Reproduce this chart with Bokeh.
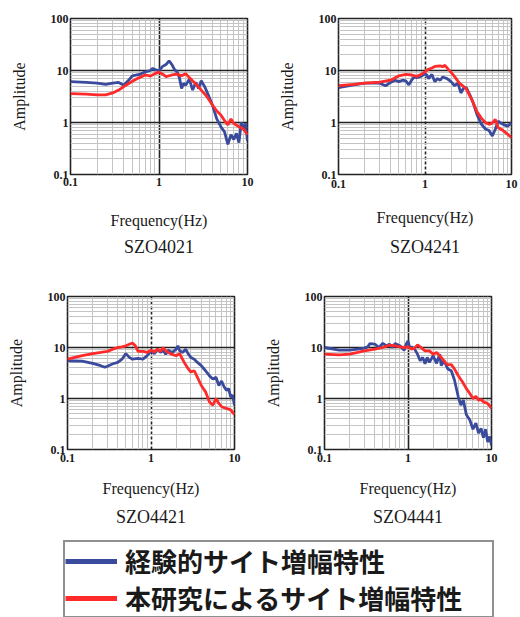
from bokeh.plotting import figure
from bokeh.models import (FixedTicker, CustomJSTickFormatter, Title, Legend,
                          LegendItem, Range1d)
from bokeh.layouts import column, row
from bokeh.embed import file_html
from bokeh.resources import INLINE

# ---------------- data ----------------
stations = ["SZO4021", "SZO4241", "SZO4421", "SZO4441"]
legend_labels = ["経験的サイト増幅特性", "本研究によるサイト増幅特性"]
x_tick_labels = [0.1, 1, 10]
y_tick_labels = [0.1, 1, 10, 100]

# SZO4021
freq_b1 = [0.1, 0.15, 0.2, 0.25, 0.3, 0.35, 0.4, 0.45, 0.5, 0.6, 0.7, 0.8, 0.85, 0.9, 1.0, 1.1, 1.2, 1.3,
           1.4, 1.5, 1.6, 1.7, 1.8, 1.9, 2.0, 2.2, 2.4, 2.6, 2.8, 3.0, 3.3, 3.6, 4.0, 4.5, 5.0, 5.5,
           6.0, 6.5, 7.0, 7.5, 8.0, 8.5, 9.0, 9.5, 10]
amp_b1 = [6.1, 5.9, 5.7, 5.4, 5.7, 5.9, 5.2, 6.4, 7.9, 8.4, 9.4, 10, 11, 10.4, 10, 12, 13, 15.3,
          13, 10.4, 9.4, 7.3, 4.5, 5.7, 5.2, 6.8, 4.2, 5.9, 4.5, 6.4, 4.8, 3.4, 2.2, 1.17, 0.83, 0.66,
          0.38, 0.58, 0.47, 0.62, 0.41, 1.0, 0.77, 0.96, 0.44]
freq_r1 = [0.1, 0.15, 0.2, 0.25, 0.3, 0.35, 0.4, 0.5, 0.6, 0.7, 0.8, 0.9, 1.0, 1.1, 1.2, 1.4, 1.6, 1.8,
           2.0, 2.2, 2.5, 2.8, 3.0, 3.5, 4.0, 4.5, 5.0, 5.5, 6.0, 6.5, 7.0, 8.0, 9.0, 10]
amp_r1 = [3.6, 3.5, 3.4, 3.4, 3.7, 4.2, 4.9, 6.2, 7.3, 8.2, 7.8, 8.7, 9.3, 8.5, 7.6, 8.2, 8.5, 7.9,
          8.7, 7.3, 5.9, 4.8, 4.2, 3.1, 2.2, 1.66, 1.4, 1.09, 0.9, 1.17, 0.96, 0.83, 0.75, 0.58]

# SZO4241
freq_b2 = [0.1, 0.15, 0.2, 0.3, 0.35, 0.4, 0.45, 0.5, 0.55, 0.6, 0.65, 0.7, 0.75, 0.8, 0.9, 1.0, 1.05,
           1.1, 1.2, 1.3, 1.4, 1.5, 1.6, 1.8, 2.0, 2.2, 2.4, 2.6, 2.8, 3.0, 3.3, 3.6, 4.0, 4.5, 5.0,
           5.5, 6.0, 6.5, 7.0, 8.0, 9.0, 10]
amp_b2 = [4.7, 5.3, 5.7, 5.7, 5.1, 5.9, 6.5, 6.1, 6.5, 6.3, 5.3, 6.5, 7.5, 7.3, 7.7, 8.6, 8.2,
          7.0, 8.4, 6.1, 7.0, 6.5, 7.5, 7.0, 6.1, 5.1, 5.7, 3.7, 4.6, 4.7, 3.4, 2.4, 1.4, 0.92, 0.75,
          0.7, 0.55, 0.74, 1.06, 0.92, 0.85, 0.98]
freq_r2 = [0.1, 0.15, 0.2, 0.3, 0.4, 0.5, 0.6, 0.7, 0.8, 0.9, 1.0, 1.1, 1.2, 1.3, 1.5, 1.6, 1.7, 1.8,
           2.0, 2.2, 2.5, 2.8, 3.0, 3.5, 4.0, 4.5, 5.0, 5.5, 6.0, 6.5, 7.0, 8.0, 9.0, 10]
amp_r2 = [5.1, 5.4, 5.7, 6.0, 6.5, 7.9, 8.4, 8.2, 7.7, 8.4, 9.4, 10.6, 11.2, 12, 12.3, 11.8, 12.6, 11.2,
          9.2, 7.6, 5.7, 4.9, 4.4, 2.7, 1.6, 1.2, 1.0, 0.92, 0.98, 1.15, 0.8, 0.7, 0.6, 0.51]

# SZO4421
freq_b3 = [0.1, 0.15, 0.2, 0.25, 0.28, 0.3, 0.35, 0.4, 0.45, 0.5, 0.55, 0.6, 0.7, 0.8, 0.9, 1.0, 1.1,
           1.2, 1.3, 1.4, 1.5, 1.6, 1.8, 2.0, 2.1, 2.2, 2.4, 2.6, 2.8, 3.0, 3.3, 3.6, 4.0, 4.5, 5.0,
           5.5, 6.0, 6.5, 7.0, 7.5, 8.0, 8.5, 9.0, 9.5, 10]
amp_b3 = [5.5, 5.4, 4.9, 4.4, 4.1, 4.3, 4.8, 5.1, 5.9, 7.6, 6.4, 5.9, 6.1, 5.9, 6.9, 8.6, 7.6,
          9.3, 8.0, 8.8, 7.4, 8.8, 8.0, 9.3, 10.8, 8.6, 8.0, 9.3, 7.4, 6.4, 5.9, 5.1, 4.4, 3.5, 2.8,
          2.4, 2.6, 1.8, 2.2, 1.7, 1.45, 1.56, 1.08, 1.16, 0.74]
freq_r3 = [0.1, 0.15, 0.2, 0.25, 0.3, 0.35, 0.4, 0.45, 0.5, 0.55, 0.6, 0.65, 0.7, 0.8, 0.9, 1.0, 1.1,
           1.2, 1.3, 1.4, 1.5, 1.7, 2.0, 2.2, 2.5, 2.8, 3.0, 3.3, 3.6, 4.0, 4.5, 5.0, 5.5, 6.0, 6.5,
           7.0, 8.0, 9.0, 10]
amp_r3 = [5.9, 6.9, 7.6, 8.0, 8.4, 9.3, 10, 10.3, 10.8, 11.6, 12.2, 10.8, 8.4, 8.4, 8.0, 8.8, 8.2,
          9.3, 8.4, 10, 8.6, 7.6, 6.9, 7.6, 5.1, 3.8, 3.3, 3.5, 2.6, 1.8, 1.35, 0.86, 0.74, 1.0, 0.8,
          0.69, 0.64, 0.6, 0.48]

# SZO4441
freq_b4 = [0.1, 0.15, 0.2, 0.25, 0.3, 0.33, 0.35, 0.4, 0.45, 0.5, 0.55, 0.6, 0.65, 0.7, 0.8, 0.9, 0.95,
           1.0, 1.05, 1.1, 1.2, 1.3, 1.4, 1.5, 1.6, 1.7, 1.8, 2.0, 2.2, 2.4, 2.5, 2.7, 3.0, 3.3, 3.6,
           4.0, 4.3, 4.6, 5.0, 5.5, 6.0, 6.5, 7.0, 7.5, 8.0, 8.5, 9.0, 9.5, 10]
amp_b4 = [10, 8.9, 8.9, 9.3, 9.7, 10.3, 11.9, 11.6, 10, 12.1, 10.8, 11.6, 10, 11.9, 10.8, 8.8, 11.6,
          13.5, 9.7, 10.3, 9.3, 7.4, 5.5, 6.4, 4.8, 6.4, 5.1, 6.9, 4.9, 7.4, 4.4, 5.5, 3.8, 3.5, 2.3,
          1.08, 0.74, 0.93, 0.48, 0.38, 0.25, 0.33, 0.21, 0.26, 0.17, 0.25, 0.14, 0.18, 0.12]
freq_r4 = [0.1, 0.15, 0.2, 0.25, 0.3, 0.4, 0.5, 0.6, 0.7, 0.8, 0.9, 1.0, 1.1, 1.2, 1.3, 1.4, 1.6, 1.8,
           2.0, 2.2, 2.5, 2.8, 3.0, 3.3, 3.6, 4.0, 4.5, 5.0, 5.5, 6.0, 6.5, 7.0, 7.5, 8.0, 9.0, 10]
amp_r4 = [7.4, 7.2, 7.4, 8.0, 8.6, 9.3, 10, 11.1, 10.8, 10.3, 10, 10.3, 9.3, 9.7, 11.3, 10.3, 8.6, 8.6,
          7.4, 8.0, 6.4, 5.1, 4.6, 4.6, 3.8, 2.8, 2.1, 1.56, 1.25, 1.0, 1.1, 0.93, 0.95, 0.86, 0.8, 0.64]

# ---------------- styling ----------------
BLUE = "#3a4a9c"
RED = "#ff2a2a"
SERIF = "Liberation Serif"
TXT = "#1a1a1a"

x_minor = [m * d for d in (0.1, 1) for m in range(2, 10)]
y_minor = [m * d for d in (0.1, 1, 10) for m in range(2, 10)]


def panel(name, fb, ab, fr, ar, left, right, top, frame_h, height,
          tick_off, xlab_off, title_off, dash):
    p = figure(width=260, height=height, x_axis_type="log", y_axis_type="log",
               x_range=Range1d(0.1, 10), y_range=Range1d(0.1, 100),
               toolbar_location=None, output_backend="svg",
               min_border_left=left, min_border_right=right,
               min_border_top=top, min_border_bottom=height - top - frame_h)
    p.xaxis.ticker = FixedTicker(ticks=x_tick_labels, minor_ticks=x_minor)
    p.yaxis.ticker = FixedTicker(ticks=y_tick_labels, minor_ticks=y_minor)
    fmt = CustomJSTickFormatter(code="return String(tick);")
    for ax in (p.xaxis[0], p.yaxis[0]):
        ax.formatter = fmt
        ax.axis_line_color = None
        ax.major_tick_in = 0
        ax.major_tick_out = 0
        ax.minor_tick_in = 0
        ax.minor_tick_out = 0
        ax.major_label_text_font = SERIF
        ax.major_label_text_font_size = "12px"
        ax.major_label_text_font_style = "bold"
        ax.major_label_text_color = TXT
        ax.axis_label_text_font = SERIF
        ax.axis_label_text_font_size = "16px"
        ax.axis_label_text_font_style = "normal"
        ax.axis_label_text_color = TXT
    p.xaxis.axis_label = "Frequency(Hz)"
    p.yaxis.axis_label = "Amplitude"
    p.xaxis.major_label_standoff = tick_off
    p.xaxis.axis_label_standoff = xlab_off
    p.yaxis.major_label_standoff = 2
    p.yaxis.axis_label_standoff = 20

    p.xgrid.grid_line_color = "#222222"
    p.xgrid.grid_line_width = 1.6
    if dash:
        p.xgrid.grid_line_dash = "3 2"
    p.ygrid.grid_line_color = "#222222"
    p.ygrid.grid_line_width = 1.6
    for g in (p.xgrid[0], p.ygrid[0]):
        g.minor_grid_line_color = "#c4c4c4"
        g.minor_grid_line_width = 1

    p.outline_line_color = "#222222"
    p.outline_line_width = 1.6
    p.background_fill_color = "white"
    p.border_fill_color = "white"

    p.line(fb, ab, line_color=BLUE, line_width=2.8)
    p.line(fr, ar, line_color=RED, line_width=2.8)

    t = Title(text=name, align="center", text_font=SERIF, text_font_size="18px",
              text_font_style="normal", text_color=TXT, standoff=title_off)
    p.add_layout(t, "below")
    return p


p1 = panel(stations[0], freq_b1, amp_b1, freq_r1, amp_r1,
           left=70, right=13, top=13, frame_h=161, height=270,
           tick_off=3, xlab_off=23, title_off=6, dash=False)
p2 = panel(stations[1], freq_b2, amp_b2, freq_r2, amp_r2,
           left=78, right=9, top=18, frame_h=158, height=270,
           tick_off=5, xlab_off=18, title_off=12, dash=True)
p3 = panel(stations[2], freq_b3, amp_b3, freq_r3, amp_r3,
           left=67, right=26, top=25, frame_h=154, height=270,
           tick_off=4, xlab_off=15, title_off=10, dash=True)
p4 = panel(stations[3], freq_b4, amp_b4, freq_r4, amp_r4,
           left=64, right=29, top=26, frame_h=153, height=270,
           tick_off=4, xlab_off=15, title_off=10, dash=False)

# ---------------- legend strip ----------------
# The legend proxies reuse the first station's series, drawn outside the
# strip's visible range so that only their legend glyphs show.
lp = figure(width=520, height=77, x_range=Range1d(100, 101), y_range=Range1d(100, 101),
            toolbar_location=None, output_backend="svg", min_border=0)
lp.axis.visible = False
lp.grid.visible = False
lp.outline_line_color = None
rb = lp.line(freq_b1, amp_b1, line_color=BLUE, line_width=5)
rr = lp.line(freq_r1, amp_r1, line_color=RED, line_width=5)
leg = Legend(items=[LegendItem(label=legend_labels[0], renderers=[rb]),
                    LegendItem(label=legend_labels[1], renderers=[rr])],
             location=(63, -1), orientation="vertical",
             label_text_font="Noto Sans CJK JP", label_text_font_size="26px",
             label_text_font_style="bold",
             label_text_color=TXT, label_height=36, glyph_height=36, glyph_width=52,
             label_standoff=8, label_width=367, spacing=-4, padding=0, margin=0,
             border_line_color="#222222", border_line_width=2,
             background_fill_color="white", background_fill_alpha=1)
lp.add_layout(leg)

layout = column(row(p1, p2), row(p3, p4), lp)
open("out.html", "w").write(file_html(layout, INLINE))
